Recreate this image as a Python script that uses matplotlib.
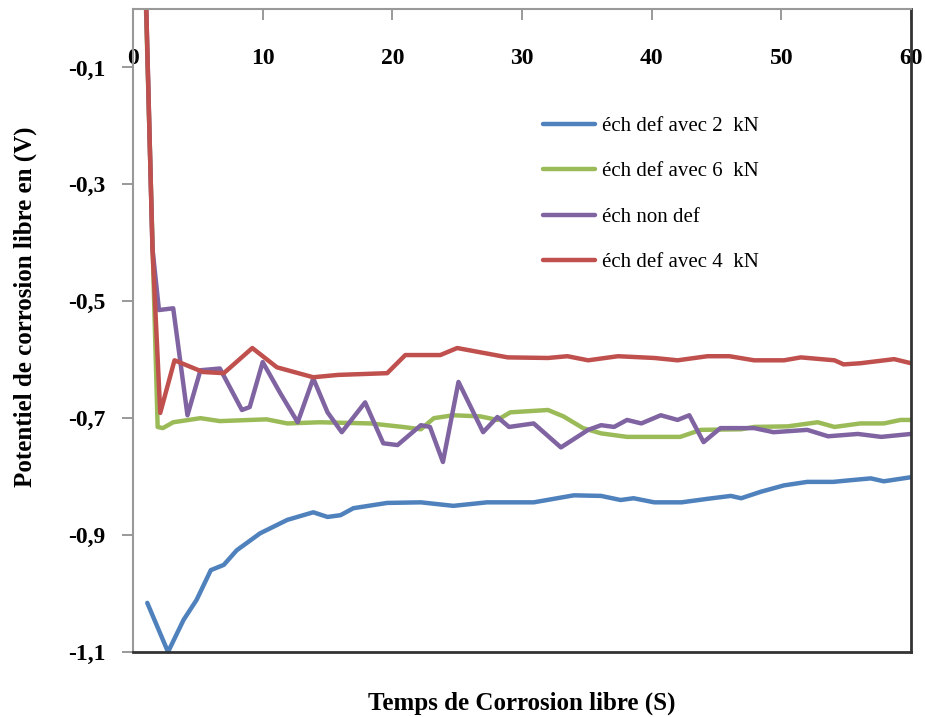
import matplotlib
matplotlib.use("Agg")
import matplotlib.pyplot as plt

# Free corrosion potential (V) versus time (S) for four specimens
blue_x = [1.1, 2.7, 3.9, 4.9, 6.0, 7.0, 8.0, 9.8, 11.9, 13.9, 15.0, 16.0, 17.0, 19.6,
          22.2, 24.7, 27.3, 29.9, 30.9, 34.0, 36.1, 37.6, 38.6, 40.2, 42.3, 44.3,
          46.1, 46.9, 48.4, 50.2, 52.0, 54.0, 55.4, 56.9, 57.9, 60.0]
blue_y = [-1.016, -1.100, -1.045, -1.011, -0.960, -0.951, -0.926, -0.897, -0.874,
          -0.861, -0.869, -0.866, -0.854, -0.845, -0.844, -0.850, -0.844, -0.844,
          -0.844, -0.832, -0.833, -0.840, -0.837, -0.844, -0.844, -0.838, -0.833,
          -0.837, -0.826, -0.815, -0.809, -0.809, -0.806, -0.803, -0.808, -0.801]

green_x = [1.0, 1.9, 2.3, 3.1, 5.2, 6.7, 10.3, 11.9, 14.4, 18.3, 20.8, 22.2, 23.2,
           24.7, 26.8, 28.1, 29.1, 32.0, 33.2, 34.7, 36.1, 38.1, 42.2, 43.8, 46.9,
           47.9, 50.5, 52.8, 54.1, 56.1, 57.9, 59.2, 60.0]
green_y = [0.0, -0.715, -0.717, -0.707, -0.700, -0.705, -0.702, -0.709, -0.707,
           -0.709, -0.715, -0.719, -0.700, -0.695, -0.697, -0.703, -0.690, -0.686,
           -0.697, -0.717, -0.726, -0.732, -0.732, -0.720, -0.719, -0.715, -0.714,
           -0.707, -0.715, -0.709, -0.709, -0.703, -0.703]

purple_x = [1.0, 1.5, 2.0, 3.1, 4.2, 5.2, 6.7, 8.4, 9.0, 10.0, 11.35, 12.7, 13.9,
            15.0, 16.1, 17.9, 19.3, 20.4, 22.2, 22.9, 23.9, 25.1, 27.0, 28.1, 29.0,
            30.9, 33.0, 35.1, 36.1, 37.1, 38.1, 39.2, 40.7, 42.0, 42.9, 44.0, 45.3,
            47.9, 49.4, 52.0, 53.6, 55.9, 57.7, 60.0]
purple_y = [0.02, -0.41, -0.515, -0.512, -0.695, -0.618, -0.615, -0.686, -0.681,
            -0.604, -0.657, -0.707, -0.632, -0.690, -0.724, -0.673, -0.743, -0.746,
            -0.712, -0.715, -0.775, -0.638, -0.724, -0.698, -0.715, -0.709, -0.750,
            -0.720, -0.712, -0.715, -0.703, -0.709, -0.695, -0.703, -0.695, -0.741,
            -0.717, -0.717, -0.724, -0.720, -0.731, -0.727, -0.732, -0.727]

red_x = [1.0, 1.5, 2.1, 3.2, 5.4, 7.0, 9.2, 11.1, 13.9, 15.8, 19.6, 21.0, 23.7, 25.0,
         28.9, 32.0, 33.5, 35.1, 37.4, 40.2, 42.0, 44.3, 46.0, 47.9, 50.2, 51.5,
         54.1, 54.8, 56.1, 58.7, 60.0]
red_y = [0.02, -0.41, -0.691, -0.601, -0.621, -0.623, -0.580, -0.613, -0.630, -0.626,
         -0.623, -0.592, -0.592, -0.580, -0.596, -0.597, -0.594, -0.601, -0.594,
         -0.597, -0.601, -0.594, -0.594, -0.601, -0.601, -0.596, -0.601, -0.608,
         -0.606, -0.599, -0.606]

series_labels = ["éch def avec 2  kN", "éch def avec 6  kN", "éch non def", "éch def avec 4  kN"]
series_colors = ["#4F81BD", "#9BBB59", "#8064A2", "#C0504D"]

x_ticks = [0, 10, 20, 30, 40, 50, 60]
y_ticks = [-1.1, -0.9, -0.7, -0.5, -0.3, -0.1]
y_tick_labels = ["-1,1", "-0,9", "-0,7", "-0,5", "-0,3", "-0,1"]

serif = "Liberation Serif"

fig = plt.figure(figsize=(9.25, 7.17), dpi=100)
ax = fig.add_axes([0.1438, 0.0907, 0.8411, 0.8967])

for xs, ys, lab, col in zip([blue_x, green_x, purple_x, red_x],
                            [blue_y, green_y, purple_y, red_y],
                            series_labels, series_colors):
    ax.plot(xs, ys, color=col, lw=3.2, label=lab, solid_joinstyle="round",
            solid_capstyle="round")

ax.set_xlim(0, 60)
ax.set_ylim(-1.1, 0)

ax.set_xticks(x_ticks)
ax.set_xticklabels([str(v) for v in x_ticks])
ax.set_yticks(y_ticks)
ax.set_yticklabels(y_tick_labels)

ax.xaxis.set_ticks_position("top")
ax.tick_params(axis="x", direction="in", length=8, width=1.2, color="#888888",
               labeltop=True, labelbottom=False, pad=-43)
ax.tick_params(axis="y", direction="out", length=8, width=1.2, color="#888888",
               pad=12)
for lbl in ax.get_xticklabels() + ax.get_yticklabels():
    lbl.set_fontfamily(serif)
    lbl.set_fontweight("bold")
    lbl.set_fontsize(17)

ax.spines["top"].set_color("#999999")
ax.spines["top"].set_linewidth(1.5)
ax.spines["left"].set_color("#999999")
ax.spines["left"].set_linewidth(1.5)
ax.spines["right"].set_color("#333333")
ax.spines["right"].set_linewidth(2)
ax.spines["bottom"].set_color("#333333")
ax.spines["bottom"].set_linewidth(2)

ax.set_xlabel("Temps de Corrosion libre (S)", fontfamily=serif, fontweight="bold",
              fontsize=18)
ax.xaxis.set_label_coords(0.5, -0.062)
ax.set_ylabel("Potentiel de corrosion libre en (V)", fontfamily=serif,
              fontweight="bold", fontsize=18)
ax.yaxis.set_label_coords(-0.124, 0.537)

leg = ax.legend(loc="upper left", bbox_to_anchor=(0.527, 0.833), frameon=False,
                prop={"family": serif, "size": 15}, handlelength=2.5,
                handletextpad=0.35, labelspacing=1.24, borderpad=0,
                borderaxespad=0)
for line in leg.get_lines():
    line.set_linewidth(3.2)

fig.savefig("out.png", dpi=100)
